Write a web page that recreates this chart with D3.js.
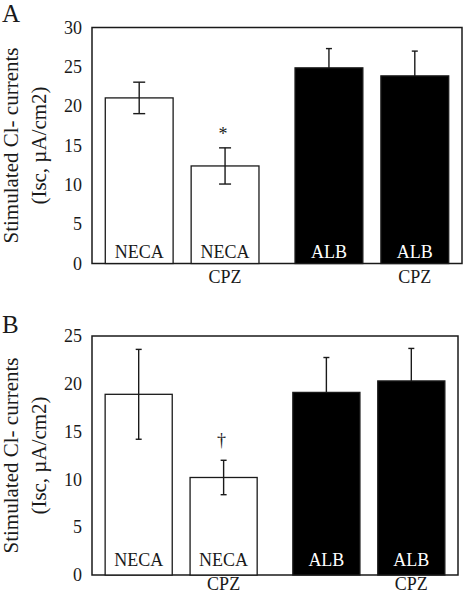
<!DOCTYPE html>
<html><head><meta charset="utf-8">
<script src="https://cdn.jsdelivr.net/npm/d3@7"></script>
<style>body{margin:0;background:#fff}svg{display:block}</style>
</head><body>
<svg id="chart" width="464" height="593"></svg>
<script>
// ---- data ----
const groups = ["NECA", "ALB"];
const treatments = ["", "CPZ"];
const barGroup = ["NECA", "NECA", "ALB", "ALB"];
const barTreatment = ["", "CPZ", "", "CPZ"];
const panelAMeans = [21.05, 12.4, 24.87, 23.85];
const panelAErrors = [2.0, 2.3, 2.45, 3.15];
const panelAMarks = ["", "*", "", ""];
const panelATicks = [0, 5, 10, 15, 20, 25, 30];
const panelBMeans = [18.9, 10.2, 19.1, 20.3];
const panelBErrors = [4.7, 1.8, 3.65, 3.4];
const panelBMarks = ["", "\u2020", "", ""];
const panelBTicks = [0, 5, 10, 15, 20, 25];
const yTitle1 = "Stimulated Cl- currents";
const yTitle2 = "(Isc, \u00B5A/cm2)";

const svg = d3.select("#chart");
const FONT = "'Liberation Serif', 'Times New Roman', serif";
const INK = "#1a1a1a";

function drawPanel(o) {
  const g = svg.append("g");
  const y = d3.scaleLinear().domain([0, d3.max(o.ticks)]).range([o.bottom, o.top]);
  const xg = d3.scaleBand().domain(groups).range([o.left, o.right]).paddingInner(0.19).paddingOuter(0.07);
  const xi = d3.scaleBand().domain(treatments).range([0, xg.bandwidth()]).paddingInner(0.21).paddingOuter(0);
  const bx = i => xg(barGroup[i]) + xi(barTreatment[i]);
  const bw = xi.bandwidth();
  const idx = d3.range(o.means.length);
  const dark = i => barGroup[i] === "ALB";
  const cx = i => bx(i) + bw / 2;

  // frame
  g.append("rect").attr("x", o.left).attr("y", o.top)
    .attr("width", o.right - o.left).attr("height", o.bottom - o.top)
    .attr("fill", "none").attr("stroke", INK).attr("stroke-width", 1.5);

  // axis
  const ax = g.append("g").attr("transform", `translate(${o.left},0)`)
    .call(d3.axisLeft(y).tickValues(o.ticks).tickSize(0).tickPadding(10).tickFormat(d3.format("d")));
  ax.select(".domain").remove();
  ax.selectAll("text").attr("font-family", FONT).attr("font-size", 18).attr("fill", INK);

  function errBars(sel) {
    const eb = g.selectAll("g.err" + sel.name).data(sel.ids).join("g").attr("class", "err" + sel.name);
    eb.append("line").attr("x1", cx).attr("x2", cx)
      .attr("y1", i => y(o.means[i] + o.errors[i])).attr("y2", i => y(o.means[i] - o.errors[i]))
      .attr("stroke", INK).attr("stroke-width", 1.4);
    [1, -1].forEach(s => {
      eb.append("line")
        .attr("x1", i => cx(i) - o.caps[i] / 2).attr("x2", i => cx(i) + o.caps[i] / 2)
        .attr("y1", i => y(o.means[i] + s * o.errors[i])).attr("y2", i => y(o.means[i] + s * o.errors[i]))
        .attr("stroke", INK).attr("stroke-width", 1.4);
    });
  }

  // error bars of dark bars go under the bars (only upper half shows)
  errBars({name: "d", ids: idx.filter(dark)});

  // bars
  g.selectAll("rect.bar").data(idx).join("rect").attr("class", "bar")
    .attr("x", i => bx(i)).attr("width", bw)
    .attr("y", i => y(o.means[i])).attr("height", i => y(0) - y(o.means[i]))
    .attr("fill", i => dark(i) ? "#000" : "#fff")
    .attr("stroke", INK).attr("stroke-width", 1.3);

  errBars({name: "l", ids: idx.filter(i => !dark(i))});

  // significance marks
  g.selectAll("text.mark").data(idx.filter(i => o.marks[i])).join("text").attr("class", "mark")
    .attr("x", i => cx(i) - 2).attr("y", i => y(o.means[i] + o.errors[i]) - o.markGap)
    .attr("text-anchor", "middle").attr("font-family", FONT).attr("font-size", 18).attr("fill", INK)
    .text(i => o.marks[i]);

  // bar labels
  g.selectAll("text.bl").data(idx).join("text").attr("class", "bl")
    .attr("x", cx).attr("y", o.bottom - o.inGap)
    .attr("text-anchor", "middle").attr("font-family", FONT).attr("font-size", 18)
    .attr("fill", i => dark(i) ? "#fff" : INK)
    .text(i => barGroup[i]);
  g.selectAll("text.tl").data(idx.filter(i => barTreatment[i])).join("text").attr("class", "tl")
    .attr("x", cx).attr("y", o.bottom + o.outGap)
    .attr("text-anchor", "middle").attr("font-family", FONT).attr("font-size", 18).attr("fill", INK)
    .text(i => barTreatment[i]);

  // y title
  const mid = (o.top + o.bottom) / 2;
  [[yTitle1, 18], [yTitle2, 46]].forEach(([t, xx]) => {
    g.append("text").attr("transform", `translate(${xx},${mid}) rotate(-90)`)
      .attr("text-anchor", "middle").attr("font-family", FONT).attr("font-size", 21).attr("fill", INK)
      .text(t);
  });

  // panel letter
  g.append("text").attr("x", 2).attr("y", o.letterY).attr("font-family", FONT)
    .attr("font-size", 25).attr("fill", INK).text(o.letter);
}

drawPanel({letter: "A", letterY: 22, left: 92, right: 462, top: 27.5, bottom: 263.5,
  means: panelAMeans, errors: panelAErrors, marks: panelAMarks, ticks: panelATicks,
  caps: [12, 12, 6, 6], markGap: 8, inGap: 6, outGap: 19});
drawPanel({letter: "B", letterY: 333, left: 92, right: 458, top: 336, bottom: 575,
  means: panelBMeans, errors: panelBErrors, marks: panelBMarks, ticks: panelBTicks,
  caps: [6, 6, 6, 6], markGap: 14, inGap: 9, outGap: 15});
</script>
</body></html>
